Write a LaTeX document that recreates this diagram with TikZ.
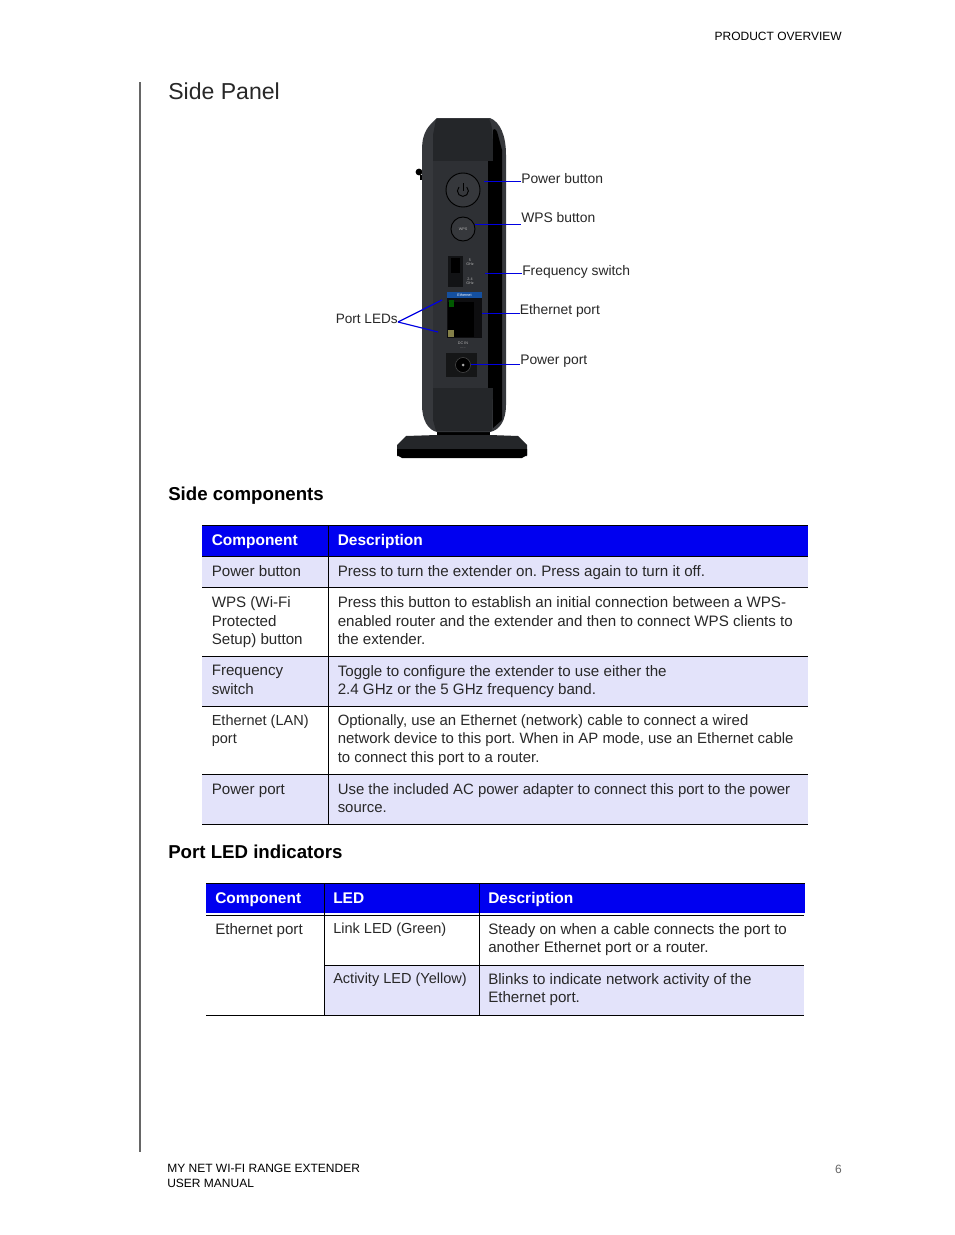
\documentclass[tikz,border=0pt]{standalone}
\usepackage{fontspec}
\setmainfont{Liberation Sans}
\frenchspacing
\usepackage{tikz}
\usetikzlibrary{shapes,positioning,calc}
\definecolor{tablehead}{RGB}{0,0,240}
\definecolor{tablerow}{RGB}{227,227,250}
\definecolor{leaderblue}{RGB}{0,0,225}
\definecolor{inktext}{RGB}{40,40,40}
\definecolor{devdark}{RGB}{36,38,41}
\definecolor{devmid}{RGB}{54,56,60}
\definecolor{devpanel}{RGB}{46,48,52}
\definecolor{ethblue}{RGB}{20,80,160}
\tikzstyle{bodytext} = [inner sep=0pt, anchor=north west, align=left, text=inktext, font=\fontsize{11.35}{13.8}\selectfont]
\tikzstyle{bodytight} = [bodytext, font=\fontsize{11.2}{13.8}\selectfont]
\tikzstyle{ledtext} = [bodytext, font=\fontsize{10.9}{13.8}\selectfont]
\tikzstyle{headtext} = [inner sep=0pt, anchor=base west, text=white, font=\fontsize{11.6}{13.9}\selectfont\bfseries]
\tikzstyle{sectitle} = [inner sep=0pt, anchor=base west, text=black, font=\fontsize{14}{16}\selectfont\bfseries]
\tikzstyle{pagetext} = [inner sep=0pt, anchor=north west, align=left, text=black, font=\fontsize{9}{11.2}\selectfont]
\tikzstyle{calltext} = [inner sep=0pt, anchor=base west, text=inktext, font=\fontsize{10.4}{12}\selectfont]
\tikzstyle{tinytext} = [inner sep=0pt, align=center, text=gray!60, font=\fontsize{2.8}{3}\selectfont]
\tikzstyle{leader} = [leaderblue, line width=0.5pt]
\tikzstyle{leaderthick} = [leaderblue, line width=1.2pt]
\tikzstyle{leaderled} = [leaderblue, line width=0.9pt]
\tikzstyle{rowline} = [black, line width=0.7pt]
\tikzstyle{devbutton} = [circle, inner sep=0pt, draw=black, line width=0.7pt, fill=devmid]

\begin{document}
\begin{tikzpicture}[x=0.75pt,y=-0.75pt]
\useasboundingbox (0,0) rectangle (954,1235);
\fill[white] (0,0) rectangle (954,1235);

\draw[gray!80!black, line width=1.1pt] (140,82) -- (140,1152);
\node (overview) at (842,36) [pagetext, anchor=east] {PRODUCT OVERVIEW};
\node (title) at (168,91) [inner sep=0pt, anchor=west, text=inktext, font=\fontsize{17.3}{20}\selectfont] {Side Panel};
\node (manual) at (167,1163.5) [pagetext] {MY NET WI-FI RANGE EXTENDER\\USER MANUAL};
\node (pagenum) at (842,1169) [pagetext, anchor=east, text=gray!80!black] {6};

\fill[black] (419,172) circle (3.4);
\fill[black] (420,175) rectangle (423,180);
\fill[black] (437,425) rectangle (490,438);
\fill[devdark] (397,445) -- (406,436) -- (437,435) -- (490,435) -- (518,436) -- (527,445) -- (527,456) -- (397,456) -- cycle;
\fill[black] (397,449) -- (527,449) -- (527,455) -- (522,458) -- (402,458) -- (397,455) -- cycle;
\fill[devmid] (422,150) .. controls (422,130) and (430,125) .. (437,118) -- (490,118) .. controls (500,122) and (506,135) .. (506,155) -- (506,405) .. controls (506,420) and (500,430) .. (490,432) -- (437,432) .. controls (428,430) and (422,420) .. (422,405) -- cycle;
\fill[devdark] (436,119) -- (489,119) .. controls (493,125) and (493,140) .. (493,161) -- (433,161) -- (433,135) -- cycle;
\fill[devdark] (433,388) -- (493,388) -- (492,431) -- (436,431) -- (433,420) -- cycle;
\fill[devpanel] (433,161) rectangle (488,388);
\fill[black] (488,161) rectangle (493,388);
\fill[black] (493,130) .. controls (495,128) and (497,130) .. (498,135) -- (502,150) -- (502,420) -- (493,428) -- cycle;

\node (pwrbtn) at (463,190) [devbutton, minimum size=34*0.75pt] {};
\draw[black, line width=0.7pt] (459,187) arc[start angle=225, end angle=-45, radius=5.5];
\draw[black, line width=0.7pt] (463,183) -- (463,191);
\node (wpsbtn) at (463,229) [devbutton, minimum size=24*0.75pt] {};
\node (wpstext) at (463,229) [tinytext] {WPS};
\fill[black!60!devpanel] (448,256) rectangle (463,287);
\fill[black] (451,258) rectangle (460,273);
\node (fivetext) at (470,262) [tinytext] {5\\GHz};
\node (twotext) at (470,281) [tinytext] {2.4\\GHz};
\fill[ethblue] (447,292) rectangle (482,297.5);
\node (ethtext) at (464.5,294.8) [tinytext, text=white] {Ethernet};
\fill[black!70!devpanel] (447,298) rectangle (482,338);
\fill[black] (448,302) rectangle (474,337);
\fill[green!35!black] (449,300) rectangle (454,307);
\fill[yellow!45!black] (448,330) rectangle (454,337);
\node (dctext) at (463,345.5) [tinytext] {DC IN\\.....};
\fill[black!55!devpanel] (446,353) rectangle (477,377);
\node (jack) at (463,365) [circle, inner sep=0pt, minimum size=15*0.75pt, fill=black, draw=gray!60!black, line width=0.4pt] {};
\fill[gray!70] (463,365) circle (1.5);

\node (lblpower) at (521,183) [calltext] {Power button};
\node (lblwps) at (521,222) [calltext] {WPS button};
\node (lblfreq) at (522,275) [calltext] {Frequency switch};
\node (lbleth) at (519.5,314) [calltext] {Ethernet port};
\node (lblport) at (520,364) [calltext] {Power port};
\node (lblleds) at (398,323) [calltext, anchor=base east, font=\fontsize{10.2}{12}\selectfont] {Port LEDs};

\coordinate (leadpower) at (484,181);
\coordinate (leadwps) at (475,224.5);
\coordinate (leadfreq) at (485,273);
\coordinate (leadeth) at (482,313);
\coordinate (leadled) at (398,322);
\coordinate (ledgreen) at (442,300);
\coordinate (ledyellow) at (438,332);
\draw[leader] (leadpower) -- (lblpower.west |- leadpower);
\draw[leaderthick] (leadwps) -- (lblwps.west |- leadwps);
\draw[leader] (leadfreq) -- (lblfreq.west |- leadfreq);
\draw[leader] (leadeth) -- (lbleth.west |- leadeth);
\draw[leader] (jack.east |- 0,364) -- (lblport.west |- 0,364);
\draw[leaderled] (leadled) -- (ledgreen);
\draw[leaderled] (leadled) -- (ledyellow);

\node (sidehead) at (168,500) [sectitle] {Side components};
\fill[tablerow] (202,556) rectangle (808,587);
\fill[tablerow] (202,656) rectangle (808,706);
\fill[tablerow] (202,774) rectangle (808,824);
\fill[tablehead] (202,525) rectangle (808,556);
\draw[rowline] (202,525) -- (808,525);
\foreach \y in {556,587,656,706,774,824}
  \draw[rowline] (202,\y) -- (808,\y);
\draw[rowline] (328,525) -- (328,824);

\node (hcomp) at (211.5,545) [headtext] {Component};
\node (hdesc) at (337.5,545) [headtext] {Description};
\node (c1) at (211.5,565) [bodytext] {Power button};
\node (d1) at (337.5,565) [bodytext] {Press to turn the extender on. Press again to turn it off.};
\node (c2) at (211.5,596.5) [bodytext] {WPS (Wi-Fi\\Protected\\Setup) button};
\node (d2) at (337.5,596.5) [bodytext] {Press this button to establish an initial connection between a WPS-\\enabled router and the extender and then to connect WPS clients to\\the extender.};
\node (c3) at (211.5,665) [bodytext] {Frequency\\switch};
\node (d3) at (337.5,665) [bodytext] {Toggle to configure the extender to use either the\\2.4 GHz or the 5 GHz frequency band.};
\node (c4) at (211.5,714.5) [ledtext] {Ethernet (LAN)\\port};
\node (d4) at (337.5,714.5) [bodytight] {Optionally, use an Ethernet (network) cable to connect a wired\\network device to this port. When in AP mode, use an Ethernet cable\\to connect this port to a router.};
\node (c5) at (211.5,783.5) [bodytext] {Power port};
\node (d5) at (337.5,783.5) [bodytight] {Use the included AC power adapter to connect this port to the power\\source.};

\node (ledhead) at (168,858) [sectitle] {Port LED indicators};
\fill[tablerow] (324,965) rectangle (804,1015);
\fill[tablehead] (206,883) rectangle (805,913);
\draw[rowline] (206,883) -- (805,883);
\draw[rowline] (206,915) -- (804,915);
\draw[rowline] (324,965) -- (804,965);
\draw[rowline] (206,1015) -- (804,1015);
\draw[rowline] (324,883) -- (324,1015);
\draw[rowline] (479,883) -- (479,1015);

\node (hcomptwo) at (215,903) [headtext] {Component};
\node (hled) at (333,903) [headtext] {LED};
\node (hdesctwo) at (488,903) [headtext] {Description};
\node (e1) at (215,923) [bodytext] {Ethernet port};
\node (l1) at (333,923) [ledtext] {Link LED (Green)};
\node (t1) at (488,923) [bodytext] {Steady on when a cable connects the port to\\another Ethernet port or a router.};
\node (l2) at (333,973) [ledtext] {Activity LED (Yellow)};
\node (t2) at (488,973) [bodytext] {Blinks to indicate network activity of the\\Ethernet port.};
\end{tikzpicture}
\end{document}
